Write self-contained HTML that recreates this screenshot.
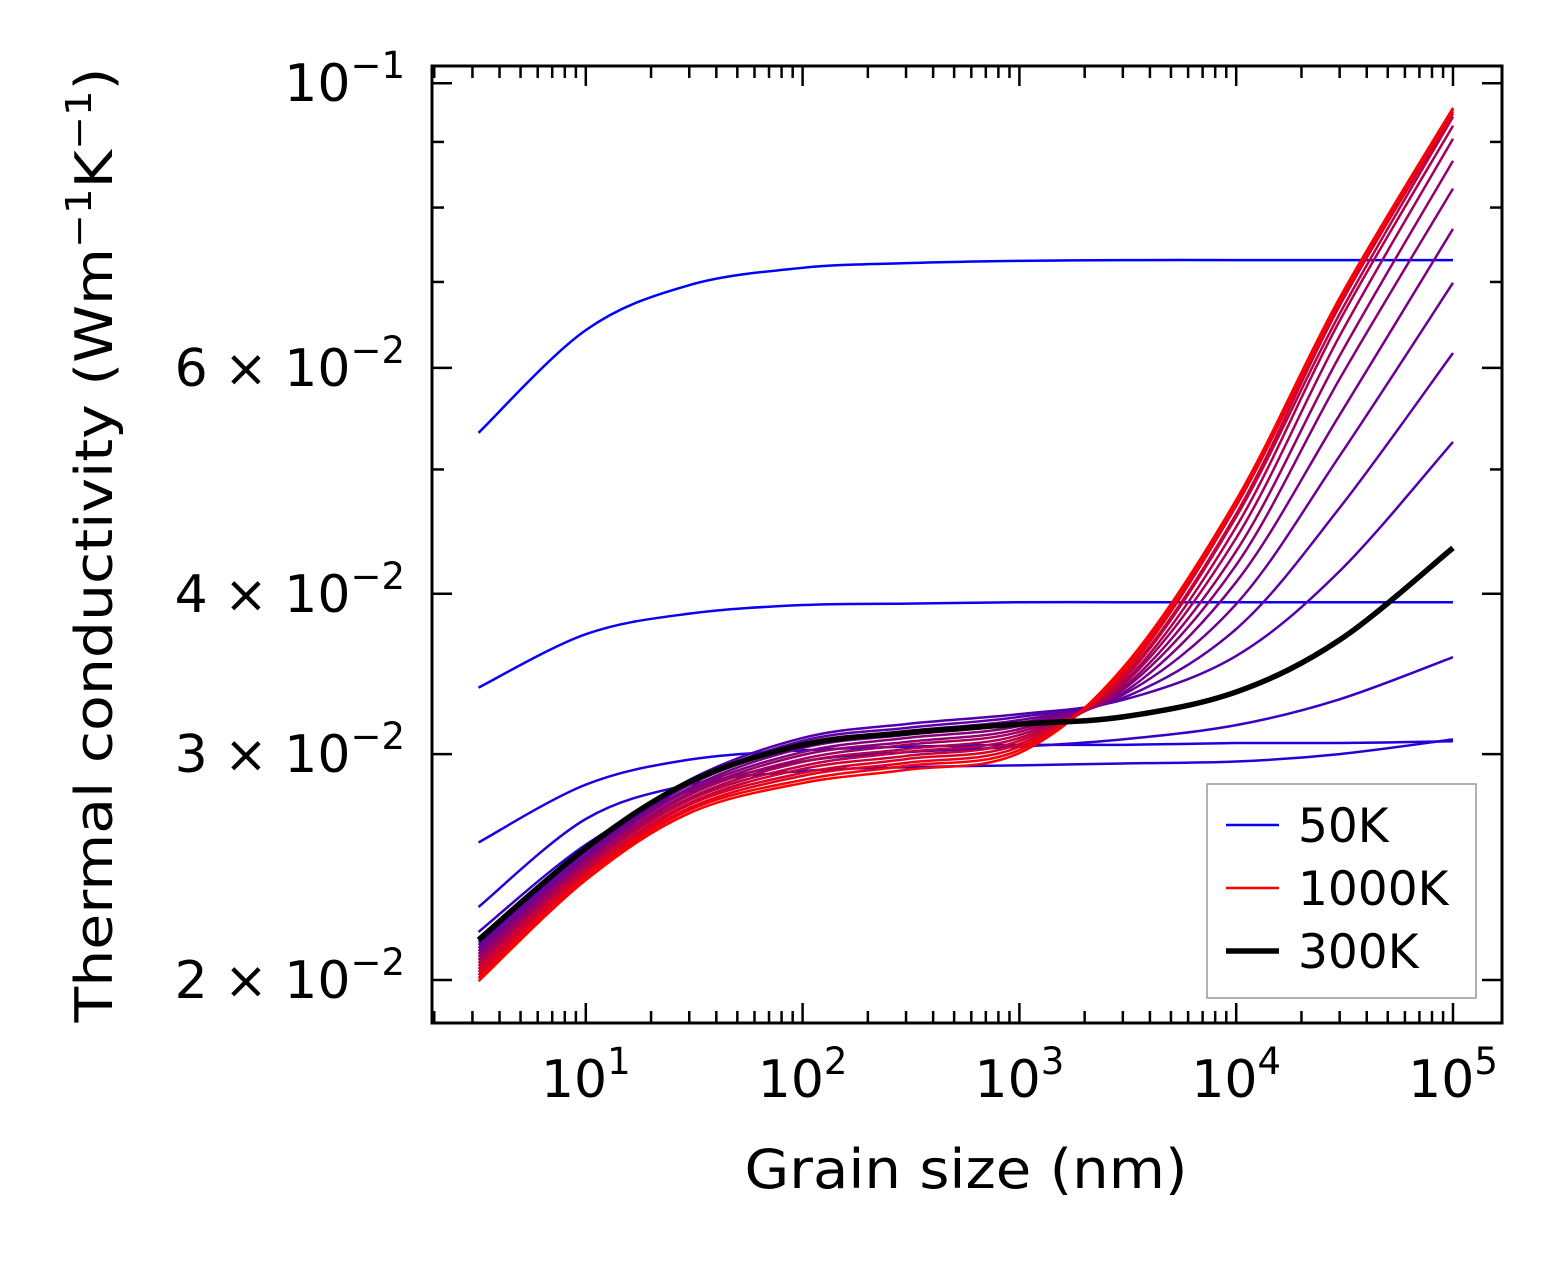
<!DOCTYPE html>
<html><head><meta charset="utf-8">
<style>
html,body{margin:0;padding:0;background:#fff;}
svg{display:block;font-family:"DejaVu Sans","Liberation Sans",sans-serif;}
</style></head>
<body>
<svg id="chart" width="1562" height="1261" viewBox="0 0 1562 1261" xmlns="http://www.w3.org/2000/svg">
<rect x="0" y="0" width="1562" height="1261" fill="#fff"/>
<g id="series"></g>
<g id="axes"></g>
<g id="legend">
  <rect x="1207" y="784" width="269" height="214" fill="#fff" stroke="#999" stroke-width="1.5"/>
  <line x1="1226" y1="825" x2="1279" y2="825" stroke="#0000ff" stroke-width="2.5"/>
  <text x="1298" y="842" font-size="47">50K</text>
  <line x1="1226" y1="888" x2="1279" y2="888" stroke="#ff0000" stroke-width="2.5"/>
  <text x="1298" y="905" font-size="47">1000K</text>
  <line x1="1226" y1="951" x2="1279" y2="951" stroke="#000" stroke-width="5.5"/>
  <text x="1298" y="968" font-size="47">300K</text>
</g>
<text x="966" y="1188" font-size="54" text-anchor="middle" textLength="443" lengthAdjust="spacingAndGlyphs">Grain size (nm)</text>
<text transform="translate(112,545) rotate(-90)" font-size="52" text-anchor="middle" textLength="955" lengthAdjust="spacingAndGlyphs">Thermal conductivity (Wm<tspan font-size="36" dy="-21">−1</tspan><tspan dy="21">K</tspan><tspan font-size="36" dy="-21">−1</tspan><tspan dy="21">)</tspan></text>
</svg>
<script>
// ---- data ----
const grainSizes = [3.2, 10, 30, 100, 300, 1000, 3000, 10000, 30000, 100000];
const temperatures = [50,100,150,200,250,300,350,400,450,500,550,600,650,700,750,800,850,900,950,1000];
// conductivity values in units of 1e-2 W/mK
const k50  = [5.34,6.42,6.96,7.18,7.24,7.27,7.28,7.28,7.28,7.28];
const k100 = [3.38,3.72,3.86,3.92,3.93,3.94,3.94,3.94,3.94,3.94];
const k150 = [2.56,2.84,2.97,3.02,3.04,3.05,3.05,3.06,3.06,3.07];
const k200 = [2.28,2.67,2.84,2.91,2.93,2.94,2.95,2.96,3.00,3.08];
const k250 = [2.18,2.55,2.81,2.96,3.01,3.04,3.08,3.16,3.31,3.57];
const k300 = [2.149,2.534,2.853,3.05,3.116,3.166,3.207,3.354,3.682,4.343];
const k350 = [2.141,2.525,2.864,3.088,3.166,3.223,3.306,3.578,4.166,5.253];
const k400 = [2.130,2.516,2.848,3.072,3.144,3.207,3.318,3.755,4.667,6.162];
const k450 = [2.118,2.502,2.838,3.050,3.127,3.189,3.336,3.927,5.123,6.989];
const k500 = [2.107,2.493,2.822,3.033,3.105,3.172,3.348,4.085,5.514,7.700];
const k550 = [2.096,2.484,2.812,3.011,3.088,3.155,3.366,4.212,5.882,8.277];
const k600 = [2.085,2.471,2.797,2.995,3.066,3.138,3.378,4.318,6.130,8.700];
const k650 = [2.073,2.462,2.787,2.974,3.050,3.122,3.396,4.421,6.354,9.051];
const k700 = [2.062,2.454,2.772,2.958,3.027,3.105,3.408,4.510,6.528,9.265];
const k750 = [2.051,2.445,2.762,2.937,3.011,3.088,3.427,4.592,6.611,9.415];
const k800 = [2.040,2.432,2.747,2.921,2.990,3.072,3.439,4.617,6.707,9.466];
const k850 = [2.029,2.423,2.738,2.900,2.973,3.055,3.458,4.683,6.743,9.500];
const k900 = [2.018,2.415,2.723,2.885,2.953,3.039,3.470,4.700,6.767,9.534];
const k950 = [2.007,2.402,2.713,2.864,2.937,3.022,3.489,4.717,6.779,9.551];
const k1000= [1.996,2.393,2.698,2.848,2.916,3.006,3.502,4.734,6.803,9.568];
const seriesValues = [k50,k100,k150,k200,k250,k300,k350,k400,k450,k500,k550,k600,k650,k700,k750,k800,k850,k900,k950,k1000];
const xTickExponents = [1,2,3,4,5];
const yTickValues = [2,3,4,6,10];
const yTickLabels = ["2 × 10", "3 × 10", "4 × 10", "6 × 10", "10"];
const yTickSup = ["−2","−2","−2","−2","−1"];

// ---- axes ----
const L=432, R=1502, T=66, B=1023;
function xs(v){ return 1453 + (Math.log10(v)-5)*216.8; }
function ys(v){ return 980 - Math.log10(v/2)*1283; } // v in 1e-2 units
const NS="http://www.w3.org/2000/svg";
function mk(tag, attrs, parent){ const e=document.createElementNS(NS,tag); for(const k in attrs) e.setAttribute(k,attrs[k]); parent.appendChild(e); return e; }

const sg=document.getElementById('series');
function pathFor(vals){
  const pts=grainSizes.map((g,i)=>[xs(g), ys(vals[i])]);
  let d="M"+pts[0][0].toFixed(2)+","+pts[0][1].toFixed(2);
  for(let i=0;i<pts.length-1;i++){
    const p0=pts[Math.max(0,i-1)], p1=pts[i], p2=pts[i+1], p3=pts[Math.min(pts.length-1,i+2)];
    const c1=[p1[0]+(p2[0]-p0[0])/6, p1[1]+(p2[1]-p0[1])/6];
    const c2=[p2[0]-(p3[0]-p1[0])/6, p2[1]-(p3[1]-p1[1])/6];
    d+=" C"+c1[0].toFixed(2)+","+c1[1].toFixed(2)+" "+c2[0].toFixed(2)+","+c2[1].toFixed(2)+" "+p2[0].toFixed(2)+","+p2[1].toFixed(2);
  }
  return d;
}
const order=[];
for(let i=0;i<seriesValues.length;i++) if(temperatures[i]!==300) order.push(i);
order.push(temperatures.indexOf(300));
order.forEach(i=>{
  const t=i/(seriesValues.length-1);
  const isBlack=temperatures[i]===300;
  const col=isBlack?"#000":"rgb("+Math.round(255*t)+",0,"+Math.round(255*(1-t))+")";
  const p=mk('path',{d:pathFor(seriesValues[i]),fill:"none",stroke:col,"stroke-width":isBlack?5.5:2.5,"stroke-linejoin":"round"},sg);
  
  
});

const ag=document.getElementById('axes');
const frame=mk('rect',{x:L,y:T,width:R-L,height:B-T,fill:"none",stroke:"#000","stroke-width":3},ag);


// x ticks
for(let e=0;e<=5;e++){
  for(let m=1;m<=9;m++){
    const v=m*Math.pow(10,e);
    const x=xs(v);
    if(x<L+1||x>R-1) continue;
    const len=m===1?20:12;
    const t1=mk('line',{x1:x,y1:B,x2:x,y2:B-len,stroke:"#000","stroke-width":2.5},ag);
    
    
    const t2=mk('line',{x1:x,y1:T,x2:x,y2:T+len,stroke:"#000","stroke-width":2.5},ag);
    
    
  }
}
xTickExponents.forEach(e=>{
  const x=xs(Math.pow(10,e));
  const tx=mk('text',{x:x,y:1097,"font-size":52,"text-anchor":"middle"},ag);
  
  
  tx.appendChild(document.createTextNode("10"));
  const s=mk('tspan',{"font-size":37,dy:-23},tx);
  s.textContent=String(e);
});
// y ticks
for(let v=2; v<=10; v++){
  const y=ys(v);
  const labeled=yTickValues.indexOf(v)>=0;
  const len=labeled?20:12;
  const a=mk('line',{x1:L,y1:y,x2:L+len,y2:y,stroke:"#000","stroke-width":2.5},ag);
  
  
  const b=mk('line',{x1:R,y1:y,x2:R-len,y2:y,stroke:"#000","stroke-width":2.5},ag);
  
  
}
yTickValues.forEach((v,i)=>{
  const y=ys(v);
  const tx=mk('text',{x:405,y:y+18,"font-size":52,"text-anchor":"end"},ag);
  
  
  tx.appendChild(document.createTextNode(yTickLabels[i]));
  const s=mk('tspan',{"font-size":37,dy:-23},tx);
  s.textContent=yTickSup[i];
});
</script>
</body></html>
